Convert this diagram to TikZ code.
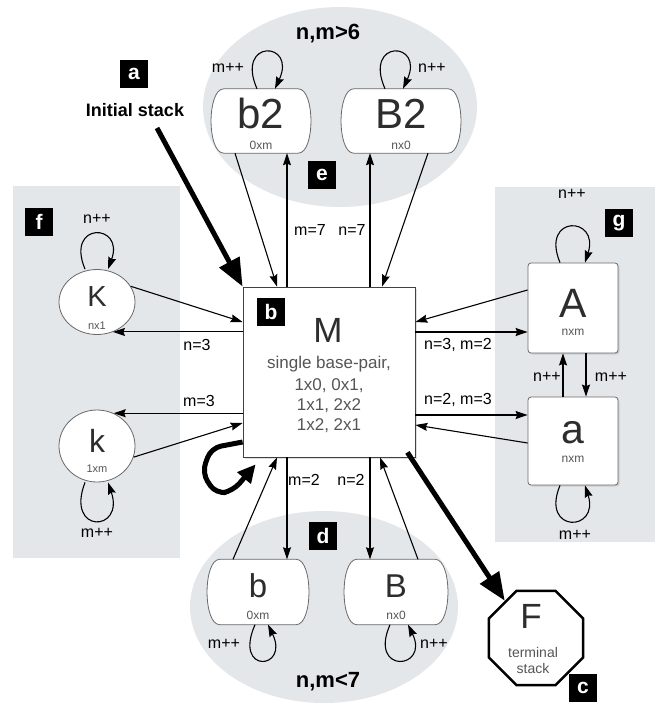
\documentclass[tikz,border=0pt]{standalone}
\usepackage{fontspec}
\setmainfont{Liberation Sans}
\usetikzlibrary{arrows.meta,shapes.geometric,shadows}
\definecolor{panel}{RGB}{228,231,234}
\definecolor{ink}{RGB}{45,45,45}
\definecolor{subink}{RGB}{85,85,85}
\definecolor{edgegray}{RGB}{105,105,105}
\newcommand{\fs}[1]{\fontsize{#1}{#1}\selectfont}
\newcommand{\pillshape}[1]{%
 \path[pillline] ([xshift=12pt]#1.north west) -- ([xshift=-12pt]#1.north east)
   .. controls ([xshift=5pt]#1.north east) and ([xshift=5pt]#1.south east) .. ([xshift=-12pt]#1.south east)
   -- ([xshift=12pt]#1.south west)
   .. controls ([xshift=-5pt]#1.south west) and ([xshift=-5pt]#1.north west) .. cycle;}
\begin{document}
\begin{tikzpicture}[x=1pt,y=-1pt,
  conn/.style={line width=1.1pt,-{Stealth[length=12pt,width=8pt,inset=1.5pt]}},
  bigarrow/.style={line width=5pt,-{Triangle[length=28pt,width=22pt]}},
  lbltxt/.style={font=\fs{16},inner sep=0pt},
  tagsq/.style={fill=black,text=white,font=\bfseries\fs{21},minimum width=28pt,minimum height=28pt,inner sep=0pt},
  bigtxt/.style={anchor=base,text=ink,inner sep=0pt},
  subtxt/.style={anchor=base,text=subink,inner sep=0pt},
  hold/.style={draw=none,fill=none,inner sep=0pt},
  pillline/.style={draw=edgegray,line width=0.8pt,fill=white},
  sqbox/.style={rectangle,draw=edgegray,fill=white,line width=0.8pt,rounded corners=3pt,inner sep=0pt,
     drop shadow={shadow xshift=1.5pt,shadow yshift=-1.5pt,opacity=0.25}},
  ellbox/.style={ellipse,draw=edgegray,fill=white,line width=0.8pt,inner sep=0pt},
  hdr/.style={font=\bfseries\fs{22},inner sep=0pt}
]
\useasboundingbox (0,0) rectangle (658,704);
% backgrounds
\fill[panel] (13,186) rectangle (180,558);
\fill[panel] (495,187) rectangle (655,542);
\fill[panel] (340,107) ellipse [x radius=137pt,y radius=100pt];
\fill[panel] (324,607) ellipse [x radius=134pt,y radius=96pt];

% header texts
\node[hdr] (hdrtop) at (328,34) {n,m>6};
\node[hdr] (hdrbot) at (328,682) {n,m<7};

% pill boxes
\node[hold,minimum width=98pt,minimum height=64pt] (b2) at (261,121) {};
\node[hold,minimum width=118pt,minimum height=64pt] (B2) at (401,121) {};
\node[hold,minimum width=100pt,minimum height=65pt] (b) at (258,592) {};
\node[hold,minimum width=102pt,minimum height=65pt] (B) at (396,592) {};
\pillshape{b2}\pillshape{B2}\pillshape{b}\pillshape{B}

% main box
\node[rectangle,draw=black!75,fill=white,line width=0.8pt,minimum width=172pt,minimum height=170pt,inner sep=0pt,
  drop shadow={shadow xshift=2pt,shadow yshift=-2pt,opacity=0.25}] (M) at (329,372) {};
% A, a boxes
\node[sqbox,minimum width=90pt,minimum height=90pt] (A) at (573,308) {};
\node[sqbox,minimum width=90pt,minimum height=88pt] (a) at (573,441) {};
% K, k
\node[ellbox,minimum width=76pt,minimum height=65pt] (K) at (97,302) {};
\node[ellbox,minimum width=76pt,minimum height=72pt] (k) at (97,446) {};
% F
\node[regular polygon,regular polygon sides=8,draw=black,line width=2.5pt,fill=white,minimum size=102pt,inner sep=0pt] (F) at (536,638) {};

% texts in nodes
\node[bigtxt,font=\fs{42}] (tb2) at (261,128) {b2};
\node[subtxt,font=\fs{12}] (sb2) at (261,149) {0xm};
\node[bigtxt,font=\fs{42}] (tB2) at (401,128) {B2};
\node[subtxt,font=\fs{12}] (sB2) at (401,149) {nx0};
\node[bigtxt,font=\fs{33}] (tb) at (258,597) {b};
\node[subtxt,font=\fs{12}] (sb) at (258,619) {0xm};
\node[bigtxt,font=\fs{33}] (tB) at (396,597) {B};
\node[subtxt,font=\fs{12}] (sB) at (396,619) {nx0};
\node[bigtxt,font=\fs{29}] (tK) at (97,306) {K};
\node[subtxt,font=\fs{11}] (sK) at (97,329) {nx1};
\node[bigtxt,font=\fs{32}] (tk) at (97,452) {k};
\node[subtxt,font=\fs{11}] (sk) at (97,472) {1xm};
\node[bigtxt,font=\fs{41}] (tA) at (573,317) {A};
\node[subtxt,font=\fs{12}] (sA) at (573,335) {nxm};
\node[bigtxt,font=\fs{41}] (ta) at (573,443) {a};
\node[subtxt,font=\fs{12}] (sa) at (573,462) {nxm};
\node[bigtxt,font=\fs{35}] (tM) at (328,342) {M};
\node[subtxt,font=\fs{17}] (sM1) at (329,368) {single base-pair,};
\node[subtxt,font=\fs{17}] (sM2) at (329,390) {1x0, 0x1,};
\node[subtxt,font=\fs{17}] (sM3) at (329,410) {1x1, 2x2};
\node[subtxt,font=\fs{17}] (sM4) at (329,430) {1x2, 2x1};
\node[bigtxt,font=\fs{35}] (tF) at (531,628) {F};
\node[subtxt,font=\fs{14}] (sF1) at (533,657) {terminal};
\node[subtxt,font=\fs{14}] (sF2) at (533,673) {stack};

% tags
\node[tagsq] (taga) at (134,74) {a};
\node[tagsq] (tagb) at (271,312) {b};
\node[tagsq] (tagc) at (583,688) {c};
\node[tagsq] (tagd) at (323,536) {d};
\node[tagsq] (tage) at (322,175) {e};
\node[tagsq] (tagf) at (39,222) {f};
\node[tagsq] (tagg) at (619,223) {g};
\node[font=\bfseries\fs{18},inner sep=0pt] (init) at (135,110) {Initial stack};

% connectors top
\draw[conn] ([xshift=-26pt]b2.south) -- ([xshift=-52pt]M.north);
\draw[conn] ([xshift=-42pt]M.north) -- ([xshift=26pt]b2.south);
\draw[conn] ([xshift=41pt]M.north) -- ([xshift=-31pt]B2.south);
\draw[conn] ([xshift=27pt]B2.south) -- ([xshift=53pt]M.north);
\node[lbltxt] (lm7) at (310,230) {m=7};
\node[lbltxt] (ln7) at (352,230) {n=7};
% connectors bottom
\draw[conn] ([xshift=-25pt]b.north) -- ([xshift=-52pt]M.south);
\draw[conn] ([xshift=-42pt]M.south) -- ([xshift=29pt]b.north);
\draw[conn] ([xshift=41pt]M.south) -- ([xshift=-26pt]B.north);
\draw[conn] ([xshift=22pt]B.north) -- ([xshift=51pt]M.south);
\node[lbltxt] (lm2) at (304,480) {m=2};
\node[lbltxt] (ln2) at (351,480) {n=2};
% connectors left
\draw[conn] (K.25) -- ([yshift=50pt]M.west);
\draw[conn] (M.west |- K.-62) -- (K.-62);
\draw[conn] (M.west |- k.63) -- (k.63);
\draw[conn] (k.-17) -- ([yshift=-51pt]M.west);
\node[lbltxt] (ln3) at (197,345) {n=3};
\node[lbltxt] (lm3) at (199,401) {m=3};
% connectors right
\draw[conn] ([yshift=18pt]A.west) -- ([yshift=50pt]M.east);
\draw[conn] ([yshift=40pt]M.east) -- ([yshift=-24pt]A.west);
\draw[conn] ([yshift=-43pt]M.east) -- ([yshift=26pt]a.west);
\draw[conn] ([yshift=-2pt]a.west) -- ([yshift=-53pt]M.east);
\draw[conn] ([xshift=-10pt]a.north) -- ([xshift=-10pt]A.south);
\draw[conn] ([xshift=13pt]A.south) -- ([xshift=13pt]a.north);
\node[lbltxt] (lnm32) at (458,345) {n=3, m=2};
\node[lbltxt] (lnm23) at (458,400) {n=2, m=3};
\node[lbltxt] (lAn) at (547,377) {n++};
\node[lbltxt] (lAm) at (611,377) {m++};

% self loops
\draw[conn] ([xshift=-4pt]b2.north) .. controls +(-22,-50) and +(22,-48) .. ([xshift=14pt]b2.north);
\draw[conn] ([xshift=-16pt]B2.north) .. controls +(-22,-50) and +(22,-48) .. ([xshift=2pt]B2.north);
\draw[conn] ([xshift=-3pt]b.south) .. controls +(-22,50) and +(22,45) .. ([xshift=10pt]b.south);
\draw[conn] ([xshift=-6pt]B.south) .. controls +(-22,50) and +(22,45) .. ([xshift=12pt]B.south);
\draw[conn] ([xshift=-12pt]K.north) .. controls +(-20,-48) and +(17,-46) .. ([xshift=11pt]K.north);
\draw[conn] ([xshift=-12pt]k.south) .. controls +(-20,52) and +(17,50) .. ([xshift=11pt]k.south);
\draw[conn] ([xshift=-13pt]A.north) .. controls +(-20,-48) and +(15,-47) .. ([xshift=12pt]A.north);
\draw[conn] ([xshift=-13pt]a.south) .. controls +(-20,48) and +(15,47) .. ([xshift=12pt]a.south);
\node[lbltxt] (lb2) at (228,68) {m++};
\node[lbltxt] (lB2) at (432,68) {n++};
\node[lbltxt] (lb) at (224,644) {m++};
\node[lbltxt] (lB) at (434,644) {n++};
\node[lbltxt] (lK) at (97,219) {n++};
\node[lbltxt] (lk) at (97,533) {m++};
\node[lbltxt] (lA) at (572,194) {n++};
\node[lbltxt] (la) at (575,535) {m++};

% thick arrows
\coordinate (istart) at (157,128);
\draw[bigarrow] (istart) -- (M.north west);
\draw[bigarrow] ([xshift=-8pt,yshift=5pt]M.south east) -- (F.130);
\draw[line width=5pt,rounded corners=10pt,-{Triangle[length=18pt,width=17pt]}]
  ([yshift=-70pt]M.west) -- (211,448) -- (202,473) -- (216,494) -- (233,491) -- ([xshift=13pt,yshift=-7pt]M.south west);
\end{tikzpicture}
\end{document}
